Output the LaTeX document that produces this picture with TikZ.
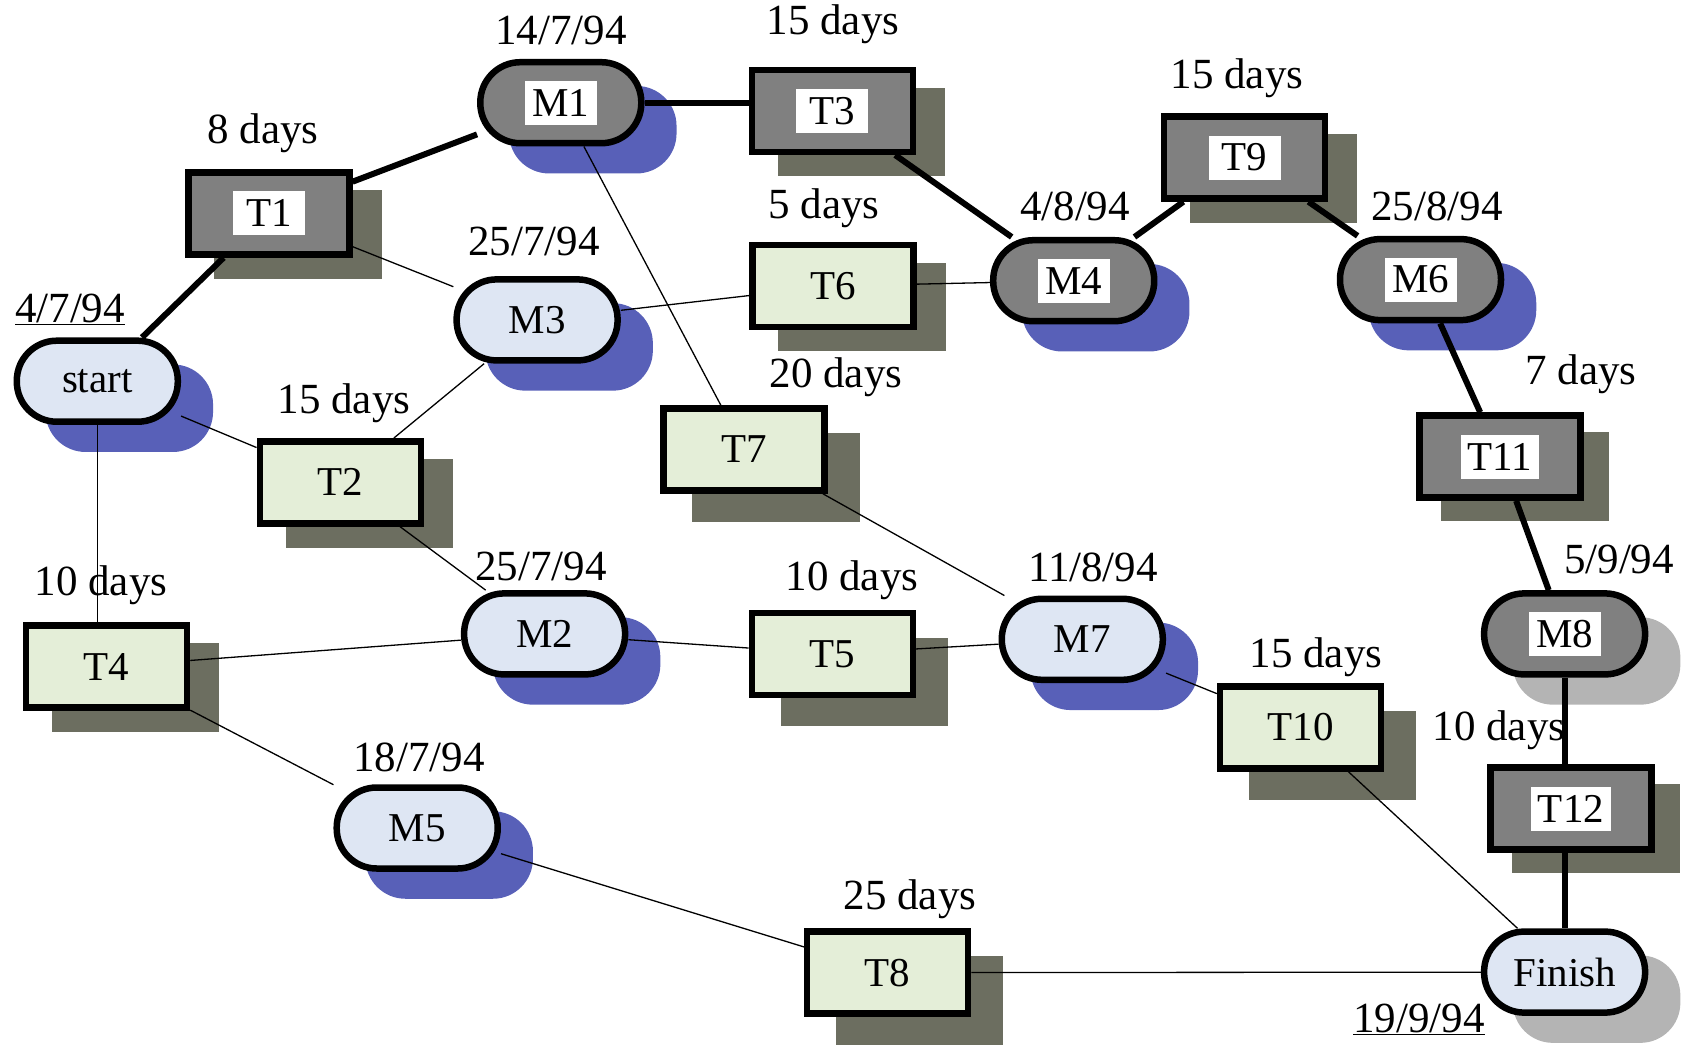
\documentclass[tikz,border=0pt]{standalone}
\usepackage{fontspec}
\setmainfont{Liberation Serif}
\pgfdeclarelayer{shad}
\pgfdeclarelayer{edges}
\pgfsetlayers{shad,edges,main}
\definecolor{darkfill}{RGB}{128,128,128}
\definecolor{msblue}{RGB}{222,230,243}
\definecolor{taskgreen}{RGB}{228,238,216}
\definecolor{blueshadow}{RGB}{88,96,184}
\definecolor{boxshadow}{RGB}{108,110,96}
\definecolor{grayshadow}{RGB}{180,180,180}
\begin{document}
\begin{tikzpicture}[x=1pt,y=-1pt,
  nodebase/.style={minimum width=161pt, minimum height=82pt, line width=6.5pt, draw=black, inner sep=0pt, font=\fontsize{41}{41}\selectfont},
  tbox/.style={nodebase, rectangle, fill=taskgreen},
  tdark/.style={nodebase, rectangle, fill=darkfill},
  mell/.style={nodebase, minimum height=81pt, rounded corners=40pt, fill=msblue},
  mdark/.style={nodebase, minimum height=81pt, rounded corners=40pt, fill=darkfill},
  wlab/.style={fill=white, inner xsep=7pt, inner ysep=0pt, minimum width=72pt, minimum height=44pt, font=\fontsize{41}{41}\selectfont},
  lab/.style={inner sep=0pt, font=\fontsize{43}{43}\selectfont},
  crit/.style={line width=6pt},
  thin/.style={line width=1.3pt}]
\useasboundingbox (0,0) rectangle (1686,1044);

% task boxes
\node[tdark] (T1) at (268.8,213.4) {};
\node[tdark] (T3) at (832.3,110.8) {};
\node[tdark] (T9) at (1244.7,157.5) {};
\node[tdark] (T11) at (1500.0,456.5) {};
\node[tdark] (T12) at (1571.0,808.6) {};
\node[tbox] (T6) at (832.8,286.0) {T6};
\node[tbox] (T7) at (744.1,449.5) {T7};
\node[tbox] (T2) at (340.3,482.3) {T2};
\node[tbox] (T4) at (106.5,666.7) {T4};
\node[tbox] (T5) at (832.3,653.8) {T5};
\node[tbox] (T10) at (1300.6,727.4) {T10};
\node[tbox] (T8) at (887.7,972.6) {T8};

% milestones
\node[mell] (start) at (97.3,381.2) {start};
\node[mdark] (M1) at (560.8,102.7) {};
\node[mell] (M3) at (537.1,319.9) {M3};
\node[mdark] (M4) at (1073.7,280.7) {};
\node[mdark] (M6) at (1420.5,279.6) {};
\node[mell] (M2) at (544.6,633.9) {M2};
\node[mell] (M7) at (1082.3,639.3) {M7};
\node[mell] (M5) at (417.2,828.0) {M5};
\node[mdark] (M8) at (1564.6,633.9) {};
\node[mell] (Finish) at (1564.6,972.1) {Finish};

% white labels of critical nodes
\foreach \n in {T1,T3,T9,T11,T12,M1,M4,M6,M8}
  \node[wlab] (\n lab) at (\n) {\n};

% shadows
\begin{pgfonlayer}{shad}
\foreach \n in {T1,T3,T9,T6,T2,T4}
  \fill[boxshadow] ([shift={(29,21)}]\n.north west) rectangle ([shift={(29,21)}]\n.south east);
\foreach \n in {T7,T5,T10,T8}
  \fill[boxshadow] ([shift={(32,28)}]\n.north west) rectangle ([shift={(32,28)}]\n.south east);
\foreach \n in {T11,T12}
  \fill[boxshadow] ([shift={(25,20)}]\n.north west) rectangle ([shift={(25,20)}]\n.south east);
\foreach \n in {start,M1,M3,M4,M6,M2,M7,M5}
  \fill[blueshadow, rounded corners=40pt] ([shift={(32,27)}]\n.north west) rectangle ([shift={(32,27)}]\n.south east);
\foreach \n in {M8,Finish}
  \fill[grayshadow, rounded corners=40pt] ([shift={(32,27)}]\n.north west) rectangle ([shift={(32,27)}]\n.south east);
\end{pgfonlayer}

% connectors
\begin{pgfonlayer}{edges}
\draw[crit] (start) -- (T1);
\draw[crit] (T1) -- (M1);
\draw[crit] (M1.east) -- (M1.east -| T3.west);
\draw[crit] (T3) -- (M4);
\draw[crit] (M4) -- (T9);
\draw[crit] (T9) -- (M6);
\draw[crit] (M6) -- (T11);
\draw[crit] (T11) -- (M8);
\draw[crit] (M8.south) -- (M8.south |- T12.north);
\draw[crit] (Finish.north |- T12.south) -- (Finish.north);
\draw[thin] (T1) -- (M3);
\draw[thin] (M1) -- (T7);
\draw[thin] (M3) -- (T6);
\draw[thin] (T6) -- (M4);
\draw[thin] (start) -- (T2);
\draw[thin] (M3) -- (T2);
\draw[thin] (start.south) -- (start.south |- T4.north);
\draw[thin] (T2) -- (M2);
\draw[thin] (T4) -- (M2);
\draw[thin] (M2) -- (T5);
\draw[thin] (T5) -- (M7);
\draw[thin] (T7) -- (M7);
\draw[thin] (M7) -- (T10);
\draw[thin] (T4) -- (M5);
\draw[thin] (M5) -- (T8);
\draw[thin] (T10) -- (Finish);
\draw[thin] (T8) -- (Finish);
\end{pgfonlayer}

% labels
\node[lab] (l1) at (561,30) {14/7/94};
\node[lab] (l2) at (833,24) {15 days};
\node[lab] (l3) at (263,133) {8 days};
\node[lab] (l4) at (1237,78) {15 days};
\node[lab] (l5) at (824,208) {5 days};
\node[lab] (l6) at (1075,206) {4/8/94};
\node[lab] (l7) at (1437,206) {25/8/94};
\node[lab] (l8) at (534,241) {25/7/94};
\node[lab] (l9) at (70,309) {\underline{4/7/94}};
\node[lab] (l10) at (344,403) {15 days};
\node[lab] (l11) at (836,377) {20 days};
\node[lab] (l12) at (1581,374) {7 days};
\node[lab] (l13) at (101,585) {10 days};
\node[lab] (l14) at (541,566) {25/7/94};
\node[lab] (l15) at (852,580) {10 days};
\node[lab] (l16) at (1093,567) {11/8/94};
\node[lab] (l17) at (1619,559) {5/9/94};
\node[lab] (l18) at (1316,657) {15 days};
\node[lab] (l19) at (1499,730) {10 days};
\node[lab] (l20) at (419,757) {18/7/94};
\node[lab] (l21) at (910,899) {25 days};
\node[lab] (l22) at (1419,1019) {\underline{19/9/94}};
\end{tikzpicture}
\end{document}
